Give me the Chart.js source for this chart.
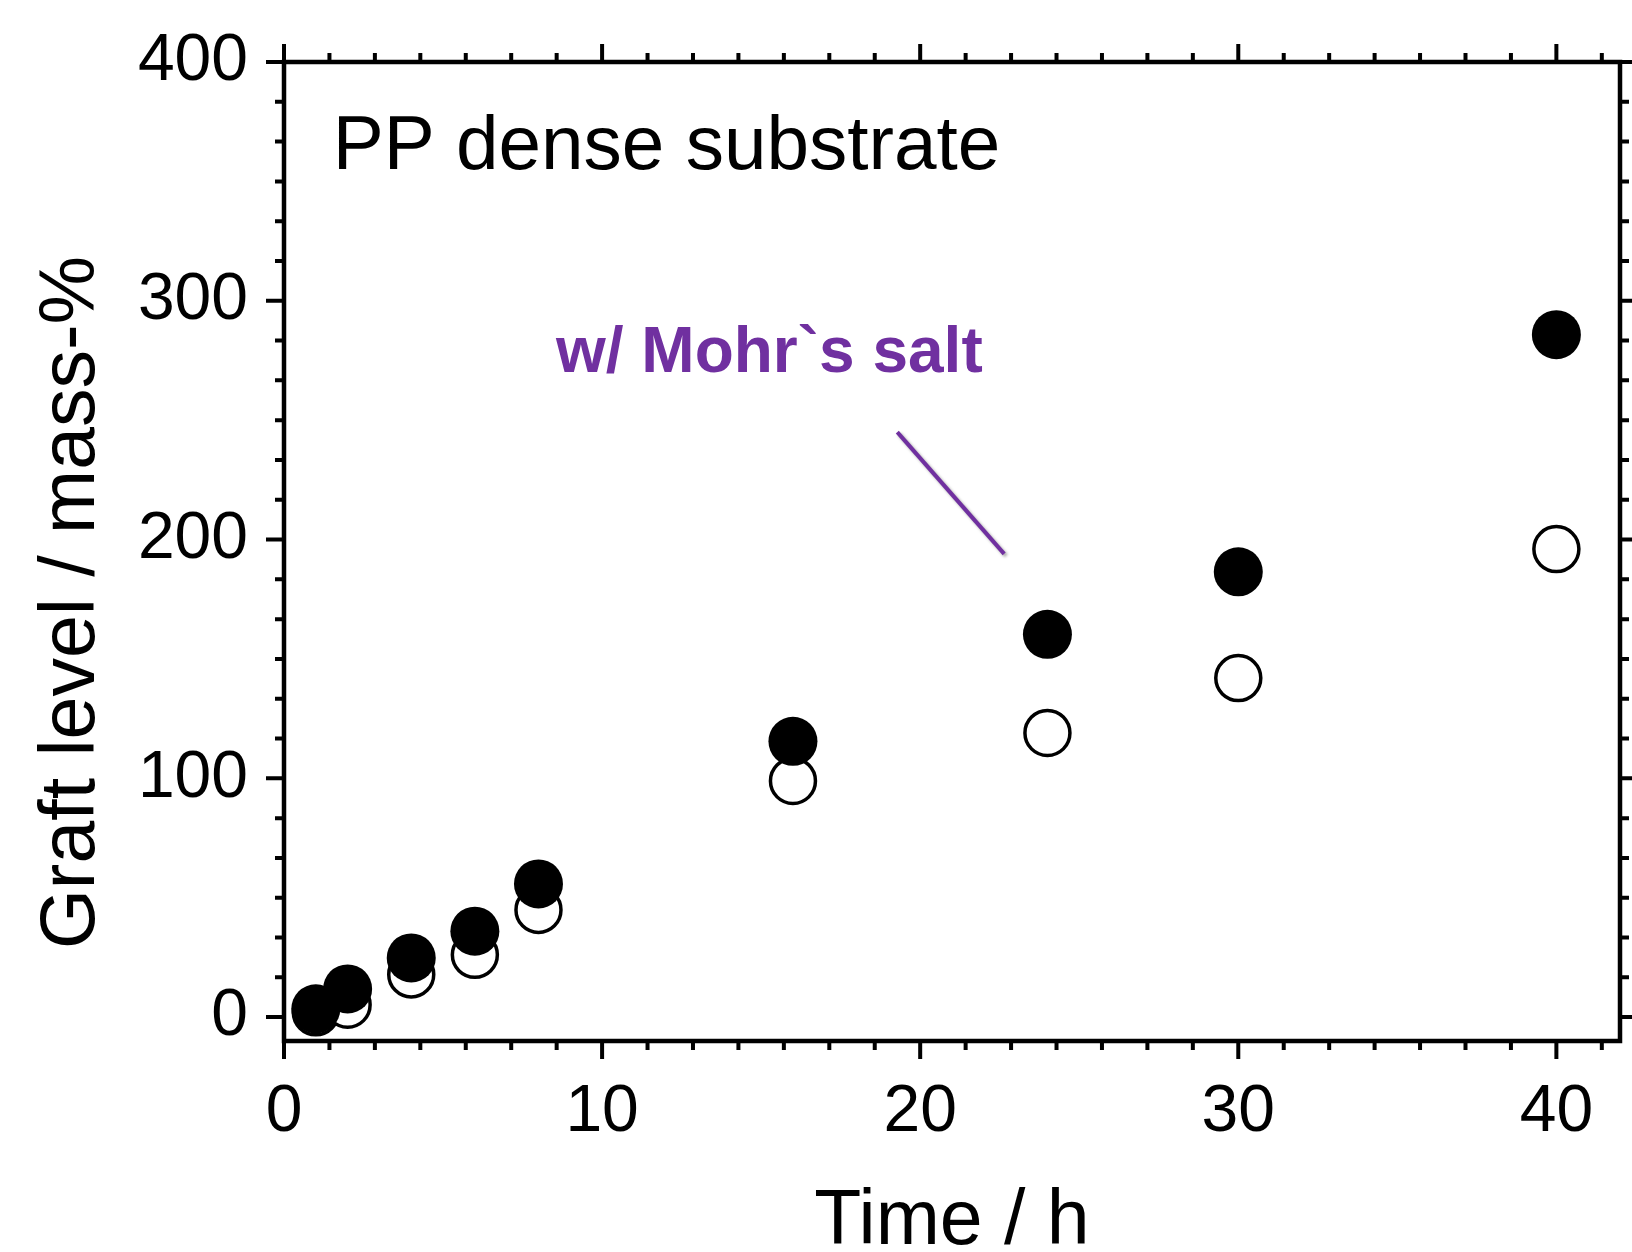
<!DOCTYPE html>
<html>
<head>
<meta charset="utf-8">
<script src="https://cdn.jsdelivr.net/npm/chart.js@4.4.1/dist/chart.umd.min.js"></script>
<style>
  html, body { margin: 0; padding: 0; background: #fff; }
</style>
</head>
<body>
<canvas id="chart" width="1632" height="1252"></canvas>
<script>
// values
const timeH = [1, 2, 4, 6, 8, 16, 24, 30, 40];
const graftWithMohr = [3.5, 11.8, 24.8, 36, 55.8, 115.5, 160.3, 186.5, 285.8];
const graftWithout = [2, 5.2, 17.9, 26.1, 44.9, 98.9, 119, 142, 196];

const xTickLabels = [0, 10, 20, 30, 40];
const yTickLabels = [0, 100, 200, 300, 400];
const xMinorSteps = 7;   // subdivisions between major ticks
const yMinorSteps = 6;

const xTitle = 'Time / h';
const yTitle = 'Graft level / mass-%';
const boxLabel = 'PP dense substrate';
const mohrLabel = 'w/ Mohr`s salt';
// annotation anchors in data units
const boxLabelAt = [1.53, 355];
const mohrLabelAt = [8.55, 270];
const pointerFrom = [19.28, 245];
const pointerTo = [22.64, 194];

const FONT = '"Liberation Sans", Arial, sans-serif';
const PURPLE = '#7030a0';

const toPoints = (xs, ys) => xs.map((x, i) => ({x: x, y: ys[i]}));

const frameAndText = {
  id: 'frameAndText',
  afterDraw(chart) {
    const {ctx, chartArea: a, scales: {x, y}} = chart;
    ctx.save();
    ctx.strokeStyle = '#000';
    ctx.lineWidth = 4.5;
    ctx.strokeRect(a.left, a.top, a.right - a.left, a.bottom - a.top);

    // ticks on all four sides, pointing outward
    ctx.lineWidth = 4;
    const xStep = (xTickLabels[1] - xTickLabels[0]) / xMinorSteps;
    ctx.beginPath();
    for (let i = 0; i * xStep <= x.max + 1e-9; i++) {
      const px = x.getPixelForValue(i * xStep);
      const len = i % xMinorSteps === 0 ? 18 : 9;
      ctx.moveTo(px, a.bottom); ctx.lineTo(px, a.bottom + len);
      ctx.moveTo(px, a.top); ctx.lineTo(px, a.top - len);
    }
    const yStep = (yTickLabels[1] - yTickLabels[0]) / yMinorSteps;
    for (let i = 0; i * yStep <= y.max + 1e-9; i++) {
      const py = y.getPixelForValue(i * yStep);
      const len = i % yMinorSteps === 0 ? 18 : 9;
      ctx.moveTo(a.left, py); ctx.lineTo(a.left - len, py);
      ctx.moveTo(a.right, py); ctx.lineTo(a.right + len, py);
    }
    ctx.stroke();

    // axis titles
    ctx.fillStyle = '#000';
    ctx.font = '77px ' + FONT;
    ctx.textAlign = 'center';
    ctx.textBaseline = 'alphabetic';
    ctx.fillText(xTitle, (a.left + a.right) / 2, a.bottom + 203);
    ctx.save();
    ctx.translate(a.left - 190, (a.top + a.bottom) / 2 + 51);
    ctx.rotate(-Math.PI / 2);
    ctx.fillText(yTitle, 0, 0);
    ctx.restore();

    // labels inside the plot
    ctx.font = '76.5px ' + FONT;
    ctx.textAlign = 'left';
    ctx.fillText(boxLabel, x.getPixelForValue(boxLabelAt[0]), y.getPixelForValue(boxLabelAt[1]));
    ctx.fillStyle = PURPLE;
    ctx.font = 'bold 64px ' + FONT;
    ctx.fillText(mohrLabel, x.getPixelForValue(mohrLabelAt[0]), y.getPixelForValue(mohrLabelAt[1]));

    ctx.strokeStyle = PURPLE;
    ctx.lineWidth = 4;
    ctx.shadowColor = 'rgba(0,0,0,0.35)';
    ctx.shadowOffsetX = 2;
    ctx.shadowOffsetY = 2;
    ctx.shadowBlur = 3;
    ctx.beginPath();
    ctx.moveTo(x.getPixelForValue(pointerFrom[0]), y.getPixelForValue(pointerFrom[1]));
    ctx.lineTo(x.getPixelForValue(pointerTo[0]), y.getPixelForValue(pointerTo[1]));
    ctx.stroke();
    ctx.restore();
  }
};

new Chart(document.getElementById('chart'), {
  type: 'scatter',
  data: {
    datasets: [
      {
        label: 'with Mohr salt',
        data: toPoints(timeH, graftWithMohr),
        backgroundColor: '#000',
        borderColor: '#000',
        borderWidth: 0,
        pointRadius: 24.5,
        pointHoverRadius: 24.5,
        clip: false
      },
      {
        label: 'without',
        data: toPoints(timeH, graftWithout),
        backgroundColor: '#fff',
        borderColor: '#000',
        borderWidth: 3.5,
        pointRadius: 22.5,
        pointHoverRadius: 22.5,
        clip: false
      }
    ]
  },
  options: {
    responsive: false,
    animation: false,
    events: [],
    layout: { autoPadding: false, padding: { top: 62, right: 12, left: 0, bottom: 0 } },
    plugins: {
      legend: { display: false },
      tooltip: { enabled: false }
    },
    scales: {
      x: {
        type: 'linear',
        min: 0,
        max: 42,
        grid: { display: false },
        border: { display: false },
        afterBuildTicks: (scale) => { scale.ticks = xTickLabels.map(v => ({value: v})); },
        afterFit: (scale) => {
          scale.height = 211;
          scale.paddingLeft = 0;
          scale.paddingRight = 0;
        },
        ticks: { color: '#000', padding: 24, font: { family: FONT, size: 66 } }
      },
      y: {
        type: 'linear',
        min: -10,
        max: 400,
        grid: { display: false },
        border: { display: false },
        afterBuildTicks: (scale) => { scale.ticks = yTickLabels.map(v => ({value: v})); },
        afterFit: (scale) => {
          scale.width = 284;
          scale.paddingTop = 0;
          scale.paddingBottom = 0;
        },
        ticks: { color: '#000', padding: 28, font: { family: FONT, size: 66 } }
      }
    }
  },
  plugins: [frameAndText]
});
</script>
</body>
</html>
